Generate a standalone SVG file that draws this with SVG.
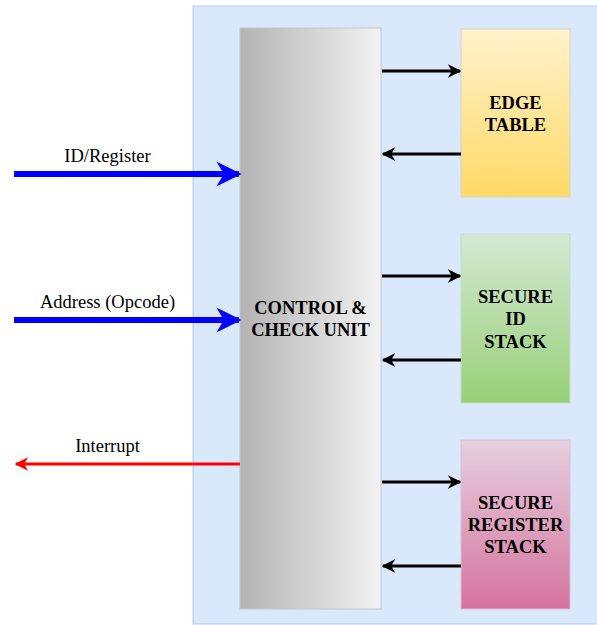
<svg xmlns="http://www.w3.org/2000/svg" width="597" height="625" viewBox="0 0 597 625">
<defs>
<linearGradient id="gCtrl" x1="0" y1="0" x2="1" y2="0"><stop offset="0" stop-color="#b3b3b3"/><stop offset="1" stop-color="#f2f2f2"/></linearGradient>
<linearGradient id="gEdge" x1="0" y1="0" x2="0" y2="1"><stop offset="0" stop-color="#fff2cc"/><stop offset="1" stop-color="#ffd966"/></linearGradient>
<linearGradient id="gId" x1="0" y1="0" x2="0" y2="1"><stop offset="0" stop-color="#d5e8d4"/><stop offset="1" stop-color="#97d077"/></linearGradient>
<linearGradient id="gReg" x1="0" y1="0" x2="0" y2="1"><stop offset="0" stop-color="#e6d0de"/><stop offset="1" stop-color="#d5739d"/></linearGradient>
<marker id="mBlack" viewBox="0 0 10 10" refX="9" refY="5" markerWidth="4.5" markerHeight="4.5" orient="auto" markerUnits="strokeWidth"><path d="M0,0 L10,5 L0,10 L3,5 Z" fill="#000"/></marker>
<marker id="mBlue" viewBox="0 0 10 10" refX="9" refY="5" markerWidth="4.2" markerHeight="4.2" orient="auto" markerUnits="strokeWidth"><path d="M0,0 L10,5 L0,10 L3,5 Z" fill="#0000ff"/></marker>
<marker id="mRed" viewBox="0 0 10 10" refX="9" refY="5" markerWidth="4.5" markerHeight="4.5" orient="auto" markerUnits="strokeWidth"><path d="M0,0 L10,5 L0,10 L3,5 Z" fill="#ff0000"/></marker>
</defs>
<style>
.lbl{font-size:18.5px;fill:#000;text-anchor:middle}
.node{font-size:18.5px;font-weight:bold;fill:#000;text-anchor:middle}
.blk{stroke:#000;stroke-width:3;fill:none;marker-end:url(#mBlack)}
</style>
<rect x="193" y="6" width="410" height="618" fill="#dae8fc" stroke="#b6cbe6" stroke-width="1"/>
<g font-family="'Liberation Serif', 'Times New Roman', serif">
<g id="control">
<rect x="240" y="28" width="141" height="581" fill="url(#gCtrl)" stroke="#c0c6d0" stroke-width="1"/>
<text class="node" x="310.5" y="313.5">CONTROL &amp;</text>
<text class="node" x="310.5" y="335.5">CHECK UNIT</text>
</g>
<g id="edge-table">
<rect x="461" y="29" width="109" height="168" fill="url(#gEdge)" stroke="#d6d6c0" stroke-width="1"/>
<text class="node" x="515.5" y="108.5">EDGE</text>
<text class="node" x="515.5" y="130.5">TABLE</text>
</g>
<g id="secure-id">
<rect x="461" y="234" width="109" height="169" fill="url(#gId)" stroke="#c8dcc8" stroke-width="1"/>
<text class="node" x="515.5" y="302.5">SECURE</text>
<text class="node" x="515.5" y="325">ID</text>
<text class="node" x="515.5" y="347.5">STACK</text>
</g>
<g id="secure-register">
<rect x="461" y="440" width="109" height="169" fill="url(#gReg)" stroke="#d8c0d8" stroke-width="1"/>
<text class="node" x="515.5" y="508.5">SECURE</text>
<text class="node" x="515.5" y="531">REGISTER</text>
<text class="node" x="515.5" y="553">STACK</text>
</g>
<g id="connectors">
<line class="blk" x1="382" y1="71" x2="460" y2="71"/>
<line class="blk" x1="461" y1="154" x2="383" y2="154"/>
<line class="blk" x1="382" y1="276" x2="460" y2="276"/>
<line class="blk" x1="461" y1="360" x2="383" y2="360"/>
<line class="blk" x1="382" y1="482" x2="460" y2="482"/>
<line class="blk" x1="461" y1="566" x2="383" y2="566"/>
<line x1="14" y1="174" x2="239" y2="174" stroke="#0000ff" stroke-width="6" marker-end="url(#mBlue)"/>
<line x1="14" y1="320" x2="239" y2="320" stroke="#0000ff" stroke-width="6" marker-end="url(#mBlue)"/>
<line x1="240" y1="464" x2="16" y2="464" stroke="#ff0000" stroke-width="3" marker-end="url(#mRed)"/>
<text class="lbl" x="107.5" y="162">ID/Register</text>
<text class="lbl" x="107.5" y="307.5">Address (Opcode)</text>
<text class="lbl" x="107.5" y="452">Interrupt</text>
</g>
</g>
</svg>
